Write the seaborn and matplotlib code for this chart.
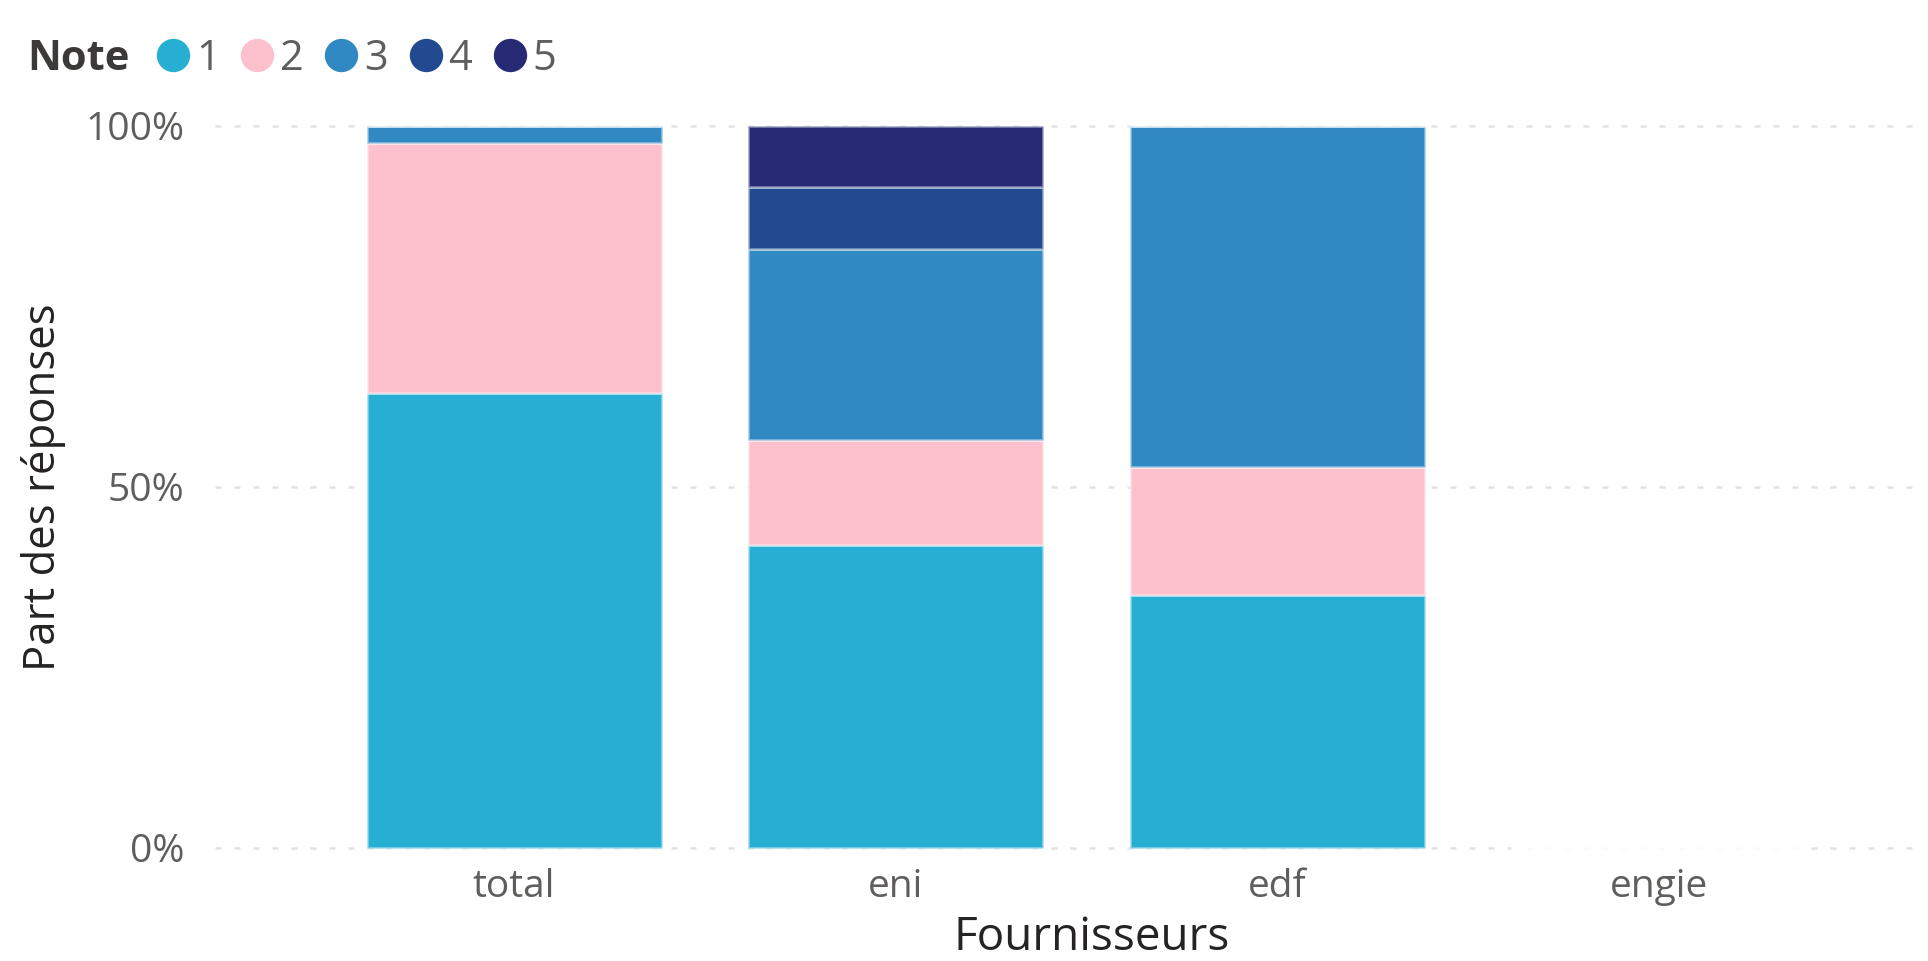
import numpy as np
import pandas as pd
import matplotlib
matplotlib.use("Agg")
import matplotlib.pyplot as plt
from matplotlib.lines import Line2D
import seaborn as sns

# ---- data ----
fournisseurs = ["total", "eni", "edf", "engie"]
notes = ["1", "2", "3", "4", "5"]
note_1 = [0.63, 0.42, 0.35, 0.0]
note_2 = [0.347, 0.145, 0.177, 0.0]
note_3 = [0.023, 0.265, 0.473, 0.0]
note_4 = [0.0, 0.085, 0.0, 0.0]
note_5 = [0.0, 0.085, 0.0, 0.0]
y_ticks = [0.0, 0.5, 1.0]
y_tick_labels = ["0%", "50%", "100%"]
note_colors = ["#27AFD3", "#FDC1CD", "#3189C3", "#224A90", "#262A74"]

sns.set_theme(style="white")
plt.rcParams["font.family"] = ["Open Sans", "DejaVu Sans"]

fig = plt.figure(figsize=(19.28, 9.61), dpi=100)
ax = fig.add_axes([0.1115, 0.1101, 0.8833, 0.7663])

series = [note_1, note_2, note_3, note_4, note_5]
bottom = np.zeros(len(fournisseurs))
for note, vals, col in zip(notes, series, note_colors):
    df = pd.DataFrame({"Fournisseurs": fournisseurs, "part": vals})
    sns.barplot(data=df, x="Fournisseurs", y="part", order=fournisseurs,
                color=col, saturation=1, width=0.773, bottom=bottom,
                edgecolor=(1, 1, 1, 0.35), linewidth=2.2, errorbar=None,
                ax=ax, zorder=2)
    bottom = bottom + np.array(vals)

ax.set_xlim(-0.784, 3.68)
ax.set_ylim(-0.01, 1.01)
ax.set_yticks(y_ticks)
ax.set_yticklabels(y_tick_labels)
ax.yaxis.grid(True, color="#e2e2e2", linestyle=(0, (2.4, 5.2)), linewidth=1.8, zorder=0)
ax.xaxis.grid(False)
ax.set_axisbelow(True)
for s in ax.spines.values():
    s.set_visible(False)

ax.tick_params(axis="y", length=0, pad=22, labelsize=28, labelcolor="#605e5c")
ax.tick_params(axis="x", length=0, pad=9, labelsize=28, labelcolor="#605e5c")

ax.set_ylabel("Part des réponses", fontsize=31.5, color="#252423", va="center")
ax.yaxis.set_label_coords(-0.1004, 0.5)
ax.set_xlabel("Fournisseurs", fontsize=33, color="#252423", va="baseline")
ax.xaxis.set_label_coords(0.515, -0.1291)

# legend
handles = [Line2D([], [], marker="o", linestyle="", markersize=24,
                  markerfacecolor=c, markeredgewidth=0) for c in note_colors]
fig.legend(handles, notes, loc="center left", bbox_to_anchor=(0.0811, 0.9386),
           ncol=5, frameon=False, fontsize=30, handlelength=0.8,
           handletextpad=0.15, columnspacing=0.5, borderpad=0, borderaxespad=0,
           labelcolor="#605e5c")
fig.text(0.014, 0.9386, "Note", fontsize=30, fontweight="bold", color="#3b3a39",
         va="center", ha="left")

fig.savefig("out.png", dpi=100, facecolor="white")
